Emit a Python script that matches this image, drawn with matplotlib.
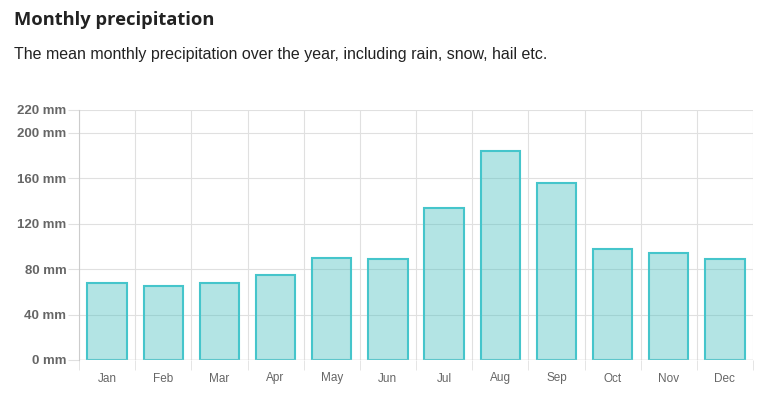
import matplotlib
matplotlib.use("Agg")
from matplotlib import pyplot as plt

months = ["Jan", "Feb", "Mar", "Apr", "May", "Jun",
          "Jul", "Aug", "Sep", "Oct", "Nov", "Dec"]
precip_mm = [67.4, 65.4, 67.4, 74.4, 90.2, 88.7,
             133.4, 183.5, 155.5, 98.0, 94.5, 88.7]
y_ticks = [0, 40, 80, 120, 160, 200, 220]

fig = plt.figure(figsize=(7.64, 4.0), dpi=100)
ax = fig.add_axes([79 / 764, 40 / 400, (753 - 79) / 764, 250 / 400])

x = range(len(months))
ax.bar(x, precip_mm, width=0.7, color=(75 / 255, 192 / 255, 192 / 255, 0.42),
       edgecolor="#45c5cb", linewidth=1.5, zorder=3)

ax.set_xlim(-0.5, len(months) - 0.5)
ax.set_ylim(0, 220)
ax.set_yticks(y_ticks)
ax.set_yticklabels([f"{v} mm" for v in y_ticks], fontweight="bold",
                   color="#666666", fontsize=9.5, family="Liberation Sans")
ax.set_xticks(list(x))
ax.set_xticklabels(months, color="#666666", fontsize=8.5, family="Liberation Sans")

# vertical grid lines between categories
for i in range(len(months) + 1):
    ax.axvline(i - 0.5, color="#e0e0e0", linewidth=0.8, zorder=0)
for v in y_ticks:
    ax.axhline(v, color="#e0e0e0", linewidth=0.8, zorder=0)
ax.axhline(0, color="#cccccc", linewidth=1.0, zorder=4)

ax.tick_params(axis="y", length=8, color="#e0e0e0", pad=1)
ax.tick_params(axis="x", length=0, pad=9)
# category tick marks below the axis
ax.set_xticks([i - 0.5 for i in range(len(months) + 1)], minor=True)
ax.tick_params(axis="x", which="minor", length=7, color="#e0e0e0")
for s in ["top", "right", "bottom"]:
    ax.spines[s].set_visible(False)
ax.spines["left"].set_color("#cccccc")

fig.text(14 / 764, 1 - 20 / 400, "Monthly precipitation", fontsize=13.2,
         fontweight="bold", color="#222222", va="center", family="Open Sans")
fig.text(14 / 764, 1 - 54 / 400,
         "The mean monthly precipitation over the year, including rain, snow, hail etc.",
         fontsize=11.5, color="#222222", va="center", family="Liberation Sans")

fig.savefig("out.png", dpi=100)
